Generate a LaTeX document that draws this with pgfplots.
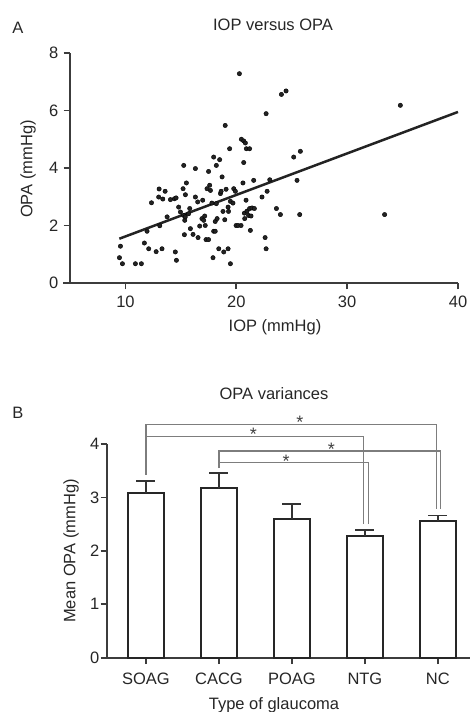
\documentclass[border=0pt]{standalone}
\usepackage{fontspec}
\setmainfont{Liberation Sans}
\usepackage{pgfplots}
\pgfplotsset{compat=1.18}

\definecolor{axisgray}{RGB}{60,60,60}
\definecolor{dotblack}{RGB}{35,35,35}
\definecolor{brgray}{RGB}{125,125,125}

\newcommand{\chartfont}{\fontsize{16.5}{19}\selectfont}

\pgfplotsset{
  panel/.style={
    scale only axis,
    anchor=south west,
    axis x line*=bottom, axis y line*=left,
    axis line style={draw=axisgray, line width=2pt, -},
    tick align=outside, major tick length=6.5pt,
    tick style={draw=axisgray, line width=1.6pt},
    tick label style={font=\chartfont, text=black!85, inner sep=0pt},
    /pgf/number format/assume math mode=true,
    clip=false,
  },
}
\tikzset{
  sigstar/.style={font=\fontsize{18}{18}\selectfont, text=black!75, inner sep=0pt, yshift=-3.8pt},
}

\begin{document}
\begin{tikzpicture}[x=1pt,y=1pt]
  % ---- panel A: scatter ----
  \node[font=\chartfont, text=black!85] at (18,684) {A};
  \node[font=\chartfont, text=black!85] at (273,687) {IOP versus OPA};
  \node[font=\chartfont, text=black!85] at (275,385) {IOP (mmHg)};
  \node[font=\chartfont, text=black!85, rotate=90] at (28,543) {OPA (mmHg)};

  \begin{axis}[panel,
      at={(70pt,429pt)}, width=388pt, height=230pt,
      xmin=5, xmax=40, ymin=0, ymax=8,
      xtick={10,20,30,40}, ytick={0,2,4,6,8},
      xticklabel shift=6pt, yticklabel shift=5pt,
    ]
    \draw[axisgray, line width=2pt] (axis cs:4.4,0) -- (axis cs:5,0);
    \addplot[only marks, mark=*, mark size=2.2pt,
      mark options={fill=dotblack, draw=none}] coordinates {
      (9.55,1.28) (9.46,0.88) (9.73,0.67) (10.9,0.67) (11.44,0.67)
      (11.71,1.39) (11.95,1.80) (12.1,1.19) (12.35,2.79) (12.77,1.09)
      (13.0,2.99) (13.04,3.27) (13.1,1.99) (13.3,1.19) (13.37,2.92)
      (13.58,3.19) (13.76,2.30) (14.06,2.90) (14.42,2.93) (14.57,2.96)
      (14.5,1.08) (14.6,0.79) (14.8,2.64) (14.96,2.47) (15.26,4.09)
      (15.2,3.28) (15.41,3.07) (15.5,3.48) (15.26,2.35) (15.35,2.18)
      (15.4,2.30) (15.32,1.68) (15.7,2.41) (15.8,2.59) (15.86,1.89)
      (16.1,1.69) (16.31,3.98) (16.31,2.99) (16.52,2.82) (16.55,1.58)
      (16.7,1.98) (16.9,2.24) (16.97,2.88) (17.06,2.18) (17.15,2.33)
      (17.2,2.00) (17.27,1.51) (17.5,1.51) (17.5,3.88) (17.6,3.40)
      (17.67,3.22) (17.36,3.28) (17.8,2.78) (17.9,0.88) (17.96,4.38)
      (17.96,1.80) (18.1,1.80) (18.2,2.76) (18.1,2.14) (18.2,4.09)
      (18.27,2.24) (18.5,4.29) (18.42,1.19) (18.57,3.11) (18.63,3.19)
      (18.72,3.69) (18.8,2.49) (18.87,1.08) (18.96,2.20) (19.0,5.48)
      (19.08,3.26) (19.26,1.19) (19.26,2.64) (19.3,2.49) (19.4,4.67)
      (19.47,0.67) (19.47,2.84) (19.7,2.78) (19.77,3.28) (19.92,3.19)
      (19.98,2.00) (20.16,2.00) (20.28,7.28) (20.43,2.00) (20.46,5.00)
      (20.6,3.48) (20.67,4.94) (20.67,4.19) (20.73,2.43) (20.76,2.24)
      (20.82,4.87) (20.88,2.88) (20.91,4.67) (20.97,2.50) (21.1,2.35)
      (21.2,4.67) (21.2,2.59) (21.27,1.83) (21.33,2.33) (21.42,2.61)
      (21.57,3.57) (21.63,2.59) (22.32,2.99) (22.6,1.58) (22.69,1.19)
      (22.69,5.89) (22.78,3.19) (23.02,3.59) (23.62,2.59) (23.98,2.38)
      (24.07,6.56) (24.49,6.68) (25.18,4.38) (25.48,3.57) (25.72,2.38)
      (25.78,4.58) (33.38,2.38) (34.8,6.18)
    };
    % linear fit
    \addplot[dotblack, line width=2.5pt] coordinates {(9.45,1.54) (40,5.95)};
  \end{axis}

  % ---- panel B: bars ----
  \node[font=\chartfont, text=black!85] at (18,299) {B};
  \node[font=\chartfont, text=black!85] at (274,318) {OPA variances};
  \node[font=\chartfont, text=black!85, anchor=base] at (274,2) {Type of glaucoma};
  \node[font=\chartfont, text=black!85, rotate=90] at (71,161) {Mean OPA (mmHg)};

  \begin{axis}[panel,
      at={(107pt,54.3pt)}, width=363pt, height=213.7pt,
      xmin=-0.534, xmax=4.44, ymin=0, ymax=4,
      xtick={0,1,2,3,4}, ytick={0,1,2,3,4},
      xticklabels={SOAG,CACG,POAG,NTG,NC},
      xticklabel shift=9pt, yticklabel shift=1pt,
    ]
    \draw[axisgray, line width=2pt] (axis cs:-0.59,0) -- (axis cs:-0.534,0);
    \addplot[ybar, bar width=0.5, fill=white, draw=black!85, line width=2pt,
      error bars/.cd, y dir=plus, y explicit,
      error bar style={draw=black!80, line width=1.8pt},
      error mark options={rotate=90, mark size=9.5pt, line width=1.8pt, draw=black!80},
    ] coordinates {
      (0,3.08) +- (0,0.23)
      (1,3.17) +- (0,0.29)
      (2,2.60) +- (0,0.28)
      (3,2.28) +- (0,0.11)
      (4,2.56) +- (0,0.10)
    };
    % significance brackets
    \draw[brgray, line width=1.3pt]
      (axis cs:0,3.42) -- (axis cs:0,4.37) -- (axis cs:3.98,4.37) -- (axis cs:3.98,2.78);
    \draw[brgray, line width=1.3pt]
      (axis cs:0,4.14) -- (axis cs:2.98,4.14) -- (axis cs:2.98,2.50);
    \draw[brgray, line width=1.3pt]
      (axis cs:1,3.55) -- (axis cs:1,3.87) -- (axis cs:4.04,3.87) -- (axis cs:4.04,2.78);
    \draw[brgray, line width=1.3pt]
      (axis cs:1,3.65) -- (axis cs:3.05,3.65) -- (axis cs:3.05,2.50);
    \node[sigstar] at (axis cs:2.11,4.48) {*};
    \node[sigstar] at (axis cs:1.47,4.26) {*};
    \node[sigstar] at (axis cs:2.54,3.98) {*};
    \node[sigstar] at (axis cs:1.92,3.75) {*};
  \end{axis}

  \pgfresetboundingbox
  \path[use as bounding box] (0,0) rectangle (470,712);
\end{tikzpicture}
\end{document}
